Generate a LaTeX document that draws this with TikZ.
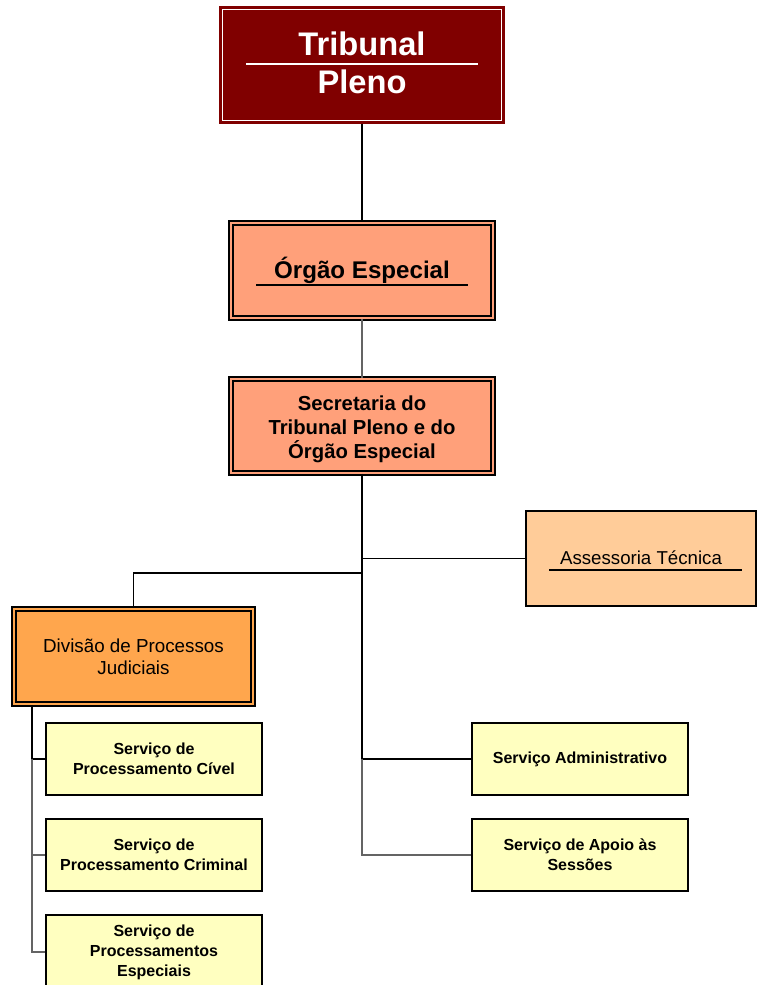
\documentclass[tikz,border=0pt]{standalone}
\usepackage{fontspec}
\setmainfont{Liberation Sans}
\usetikzlibrary{calc}
\definecolor{maroonA}{RGB}{128,0,0}
\definecolor{salmonA}{RGB}{255,160,122}
\definecolor{peachA}{RGB}{255,204,153}
\definecolor{orangeA}{RGB}{255,166,77}
\definecolor{yellowA}{RGB}{255,255,192}
\definecolor{grayA}{RGB}{100,100,100}
\tikzset{
  dbl/.style={draw=black, line width=1.15pt, double distance=2.2pt, inner sep=0pt, align=center},
  ybox/.style={draw=black, line width=1.1pt, fill=yellowA, minimum width=216*0.75pt, minimum height=72*0.75pt, inner sep=0pt, align=center, font=\fontsize{12}{15}\selectfont\bfseries},
  conn/.style={draw=black, line width=0.9pt},
  thin/.style={draw=black, line width=0.8pt},
}
\begin{document}
\begin{tikzpicture}[x=0.75pt,y=-0.75pt]
\useasboundingbox (0,0) rectangle (757,985);
% Tribunal Pleno
\node[fill=maroonA, draw=maroonA, line width=0.8pt, minimum width=284*0.75pt, minimum height=116*0.75pt, inner sep=0pt] (tp) at (362,65) {};
\node[align=center, text=white, font=\fontsize{24.5}{28.5}\selectfont\bfseries] (tpt) at (362,63) {Tribunal\\Pleno};
\draw[white, line width=1.1pt] ($(tp.north west)+(3,3)$) rectangle ($(tp.south east)+(-3,-3)$);
\draw[white, line width=1.1pt] (246,64) -- (478,64);
% Orgao Especial
\node[dbl, double=salmonA, fill=salmonA, minimum width=262*0.75pt, minimum height=95*0.75pt, font=\fontsize{18.1}{21}\selectfont\bfseries] (oe) at (362,270.5) {Órgão Especial};
\draw[black, line width=1pt] (256,285) -- (468,285);
% Secretaria
\node[dbl, double=salmonA, fill=salmonA, minimum width=262*0.75pt, minimum height=94*0.75pt, inner sep=0pt] (sec) at (362,426) {};
\node[align=center, font=\fontsize{15.2}{18}\selectfont\bfseries] (sect) at (362,429) {Secretaria do\\Tribunal Pleno e do\\Órgão Especial};
% Assessoria Tecnica
\node[draw=black, line width=1.1pt, fill=peachA, minimum width=230*0.75pt, minimum height=95*0.75pt, inner sep=0pt, font=\fontsize{14}{16}\selectfont] (ass) at (641,558.5) {\raisebox{1.5pt}{Assessoria Técnica}};
\draw[black, line width=1pt] (549,570) -- (742,570);
% Divisao
\node[dbl, double=orangeA, fill=orangeA, minimum width=239*0.75pt, minimum height=95*0.75pt, font=\fontsize{14.1}{16.5}\selectfont] (div) at (133.5,656.5) {Divisão de Processos\\Judiciais};
% yellow boxes
\node[ybox] (civ) at (154,759) {Serviço de\\Processamento Cível};
\node[ybox] (crim) at (154,855) {Serviço de\\Processamento Criminal};
\node[ybox, minimum height=74*0.75pt] (esp) at (154,952) {Serviço de\\Processamentos\\Especiais};
\node[ybox] (adm) at (580,759) {Serviço Administrativo};
\node[ybox] (apo) at (580,855) {Serviço de Apoio às\\Sessões};
% connectors
\draw[conn, line width=1.5pt] (tp.south) -- (oe.north);
\draw[conn, draw=grayA] (oe.south) -- (sec.north);
\coordinate (j) at (362,573);
\coordinate (ja) at (362,759);
\draw[conn] (sec.south) -- (ja);
\draw[thin] (ja) -- (adm.west);
\draw[thin, draw=grayA] (ja) |- (apo.west);
\draw[thin] (sec.south) |- (ass.west);
\draw[thin] (j) -| (div.north);
\coordinate (dl) at (div.south -| 32,0);
\draw[thin, line width=1pt] (dl) |- (civ.west);
\draw[thin, draw=grayA] (civ.west -| dl) |- (crim.west);
\draw[thin, draw=grayA] (crim.west -| dl) |- (esp.west);
\end{tikzpicture}
\end{document}
